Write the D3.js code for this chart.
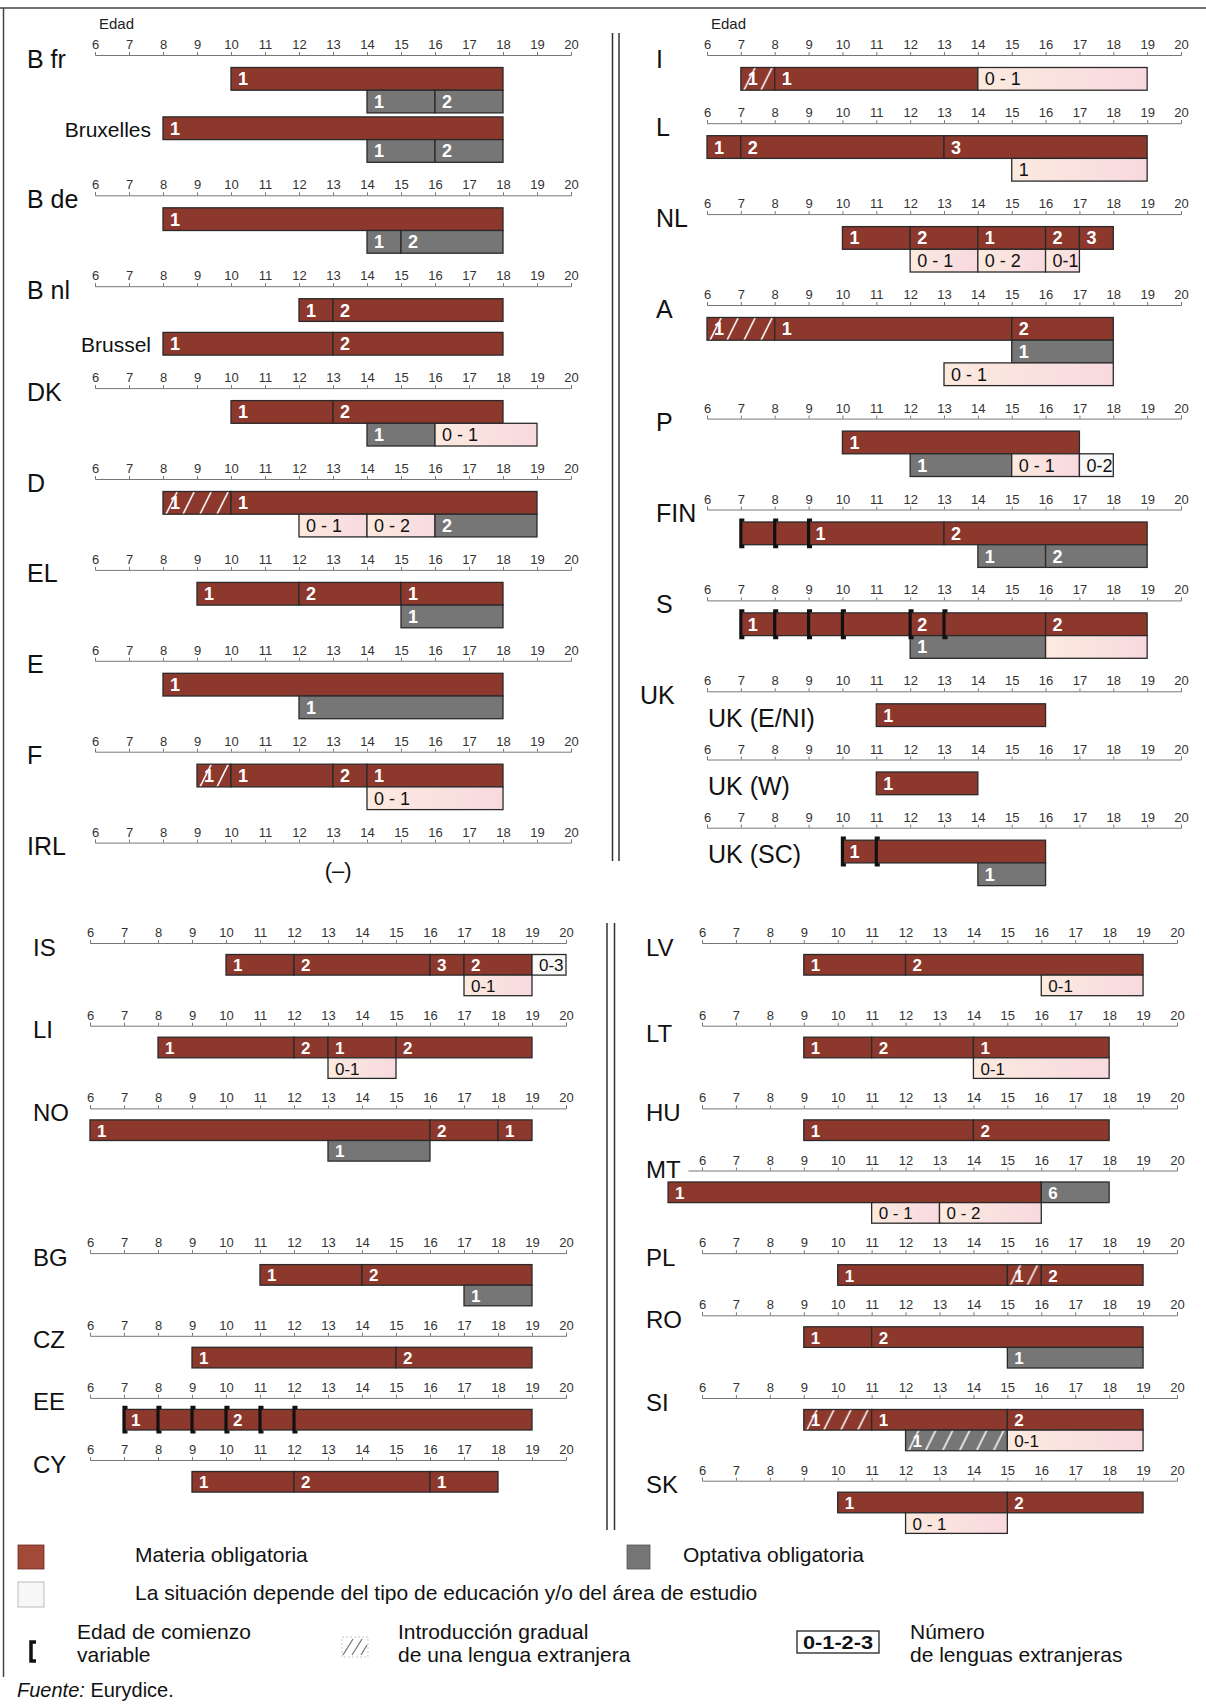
<!DOCTYPE html>
<html><head><meta charset="utf-8">
<script src="https://cdn.jsdelivr.net/npm/d3@7"></script>
<style>
body{margin:0;background:#fff}
svg{display:block}
text{font-family:"Liberation Sans",Arial,Helvetica,sans-serif}
</style>
</head><body>
<svg id="c" width="1206" height="1706"></svg>
<script>
// ---------- DATA ----------
const ageTicks = [6,7,8,9,10,11,12,13,14,15,16,17,18,19,20];
// segment: [startAge, endAge, type, label]
// types: o = materia obligatoria, e = optativa obligatoria, v = depende (light), w = depende (white),
//        h = introducción gradual (obligatoria), hg = introducción gradual (optativa)
const panelTopLeft = [
  {name:"B fr", rows:[[[10,18,"o","1"]],[[14,16,"e","1"],[16,18,"e","2"]]]},
  {sub:"Bruxelles", axis:false, rows:[[[8,18,"o","1"]],[[14,16,"e","1"],[16,18,"e","2"]]]},
  {name:"B de", rows:[[[8,18,"o","1"]],[[14,15,"e","1"],[15,18,"e","2"]]]},
  {name:"B nl", rows:[[[12,13,"o","1"],[13,18,"o","2"]]]},
  {sub:"Brussel", axis:false, rows:[[[8,13,"o","1"],[13,18,"o","2"]]]},
  {name:"DK", rows:[[[10,13,"o","1"],[13,18,"o","2"]],[[14,16,"e","1"],[16,19,"v","0 - 1"]]]},
  {name:"D", rows:[[[8,10,"h","1"],[10,19,"o","1"]],[[12,14,"v","0 - 1"],[14,16,"v","0 - 2"],[16,19,"e","2"]]]},
  {name:"EL", rows:[[[9,12,"o","1"],[12,15,"o","2"],[15,18,"o","1"]],[[15,18,"e","1"]]]},
  {name:"E", rows:[[[8,18,"o","1"]],[[12,18,"e","1"]]]},
  {name:"F", rows:[[[9,10,"h","1"],[10,13,"o","1"],[13,14,"o","2"],[14,18,"o","1"]],[[14,18,"v","0 - 1"]]]},
  {name:"IRL", rows:[], note:"(–)"}
];
const panelTopRight = [
  {name:"I", rows:[[[7,8,"h","1"],[8,14,"o","1"],[14,19,"v","0 - 1"]]]},
  {name:"L", rows:[[[6,7,"o","1"],[7,13,"o","2"],[13,19,"o","3"]],[[15,19,"v","1"]]]},
  {name:"NL", rows:[[[10,12,"o","1"],[12,14,"o","2"],[14,16,"o","1"],[16,17,"o","2"],[17,18,"o","3"]],[[12,14,"v","0 - 1"],[14,16,"v","0 - 2"],[16,17,"v","0-1"]]]},
  {name:"A", rows:[[[6,8,"h","1"],[8,15,"o","1"],[15,18,"o","2"]],[[15,18,"e","1"]],[[13,18,"v","0 - 1"]]]},
  {name:"P", rows:[[[10,17,"o","1"]],[[12,15,"e","1"],[15,17,"v","0 - 1"],[17,18,"w","0-2"]]]},
  {name:"FIN", brk:[7,8,9], rows:[[[7,9,"o",""],[9,13,"o","1"],[13,19,"o","2"]],[[14,16,"e","1"],[16,19,"e","2"]]]},
  {name:"S", brk:[7,8,9,10,12,13], rows:[[[7,12,"o","1"],[12,16,"o","2"],[16,19,"o","2"]],[[12,16,"e","1"],[16,19,"v",""]]]},
  {name:"UK", sub:"UK (E/NI)", rows:[[[11,16,"o","1"]]]},
  {sub:"UK (W)", rows:[[[11,14,"o","1"]]]},
  {sub:"UK (SC)", brk:[10,11], rows:[[[10,16,"o","1"]],[[14,16,"e","1"]]]}
];
const panelBottomLeft = [
  {name:"IS", rows:[[[10,12,"o","1"],[12,16,"o","2"],[16,17,"o","3"],[17,19,"o","2"],[19,20,"w","0-3"]],[[17,19,"v","0-1"]]]},
  {name:"LI", rows:[[[8,12,"o","1"],[12,13,"o","2"],[13,15,"o","1"],[15,19,"o","2"]],[[13,15,"v","0-1"]]]},
  {name:"NO", rows:[[[6,16,"o","1"],[16,18,"o","2"],[18,19,"o","1"]],[[13,16,"e","1"]]]},
  {name:"BG", rows:[[[11,14,"o","1"],[14,19,"o","2"]],[[17,19,"e","1"]]]},
  {name:"CZ", rows:[[[9,15,"o","1"],[15,19,"o","2"]]]},
  {name:"EE", brk:[7,8,9,10,11,12], rows:[[[7,10,"o","1"],[10,19,"o","2"]]]},
  {name:"CY", rows:[[[9,12,"o","1"],[12,16,"o","2"],[16,18,"o","1"]]]}
];
const panelBottomRight = [
  {name:"LV", rows:[[[9,12,"o","1"],[12,19,"o","2"]],[[16,19,"v","0-1"]]]},
  {name:"LT", rows:[[[9,11,"o","1"],[11,14,"o","2"],[14,18,"o","1"]],[[14,18,"v","0-1"]]]},
  {name:"HU", rows:[[[9,14,"o","1"],[14,18,"o","2"]]]},
  {name:"MT", rows:[[[5,16,"o","1"],[16,18,"e","6"]],[[11,13,"v","0 - 1"],[13,16,"v","0 - 2"]]]},
  {name:"PL", rows:[[[10,15,"o","1"],[15,16,"h","1"],[16,19,"o","2"]]]},
  {name:"RO", rows:[[[9,11,"o","1"],[11,19,"o","2"]],[[15,19,"e","1"]]]},
  {name:"SI", rows:[[[9,11,"h","1"],[11,15,"o","1"],[15,19,"o","2"]],[[12,15,"hg","1"],[15,19,"v","0-1"]]]},
  {name:"SK", rows:[[[10,15,"o","1"],[15,19,"o","2"]],[[12,15,"v","0 - 1"]]]}
];
const legendItems1 = ["Materia obligatoria","Optativa obligatoria","La situación depende del tipo de educación y/o del área de estudio"];
const legendItems2 = [["Edad de comienzo","variable"],["Introducción gradual","de una lengua extranjera"],["Número","de lenguas extranjeras"]];
const axisTitle = "Edad";
const sourceText = ["Fuente:"," Eurydice."];

// ---------- LAYOUT / STYLE ----------
const layouts = [
  {blocks:panelTopLeft, range:[95,571], top:55, labelX:27, rowH:22.7, axisGap:12.5, afterGap:33, subGap:4, labelFont:25, barFont:18, edad:true},
  {blocks:panelTopRight, range:[707,1181], top:55, labelX:656, rowH:22.7, axisGap:12.5, afterGap:33, subGap:4, labelFont:25, barFont:18, edad:true},
  {blocks:panelBottomLeft, range:[90,566], top:943, labelX:33, rowH:20.6, axisGap:11.5, afterGap:30, subGap:4, labelFont:24, barFont:17},
  {blocks:panelBottomRight, range:[702,1177], top:943, labelX:646, rowH:20.6, axisGap:11.5, afterGap:30, subGap:4, labelFont:24, barFont:17}
];
const layoutExtra = {
  "Brussel":{subGap:11}, "BG":{extraGap:62}, "MT":{labelDy:-5, axisFrom:5.6},
  "LT":{labelDy:4}, "UK":{labelDx:-16}
};
const RED = "#8c382c", GRAY = "#767676", EDGE = "#2a2a2a";

const svg = d3.select("#c");
const defs = svg.append("defs");
const lg = defs.append("linearGradient").attr("id","lg");
lg.append("stop").attr("offset","0%").attr("stop-color","#fceadf");
lg.append("stop").attr("offset","100%").attr("stop-color","#f8d9df");

let patId = 0;
function hatchFill(base, x0, y0, h, lineColor) {
  const id = "hp" + (patId++);
  const p = defs.append("pattern").attr("id", id).attr("patternUnits","userSpaceOnUse")
    .attr("x", x0).attr("y", y0).attr("width", 17).attr("height", h);
  p.append("rect").attr("width", 17).attr("height", h).attr("fill", base);
  p.append("path").attr("d", `M3,${h} L${3 + h * 0.5},0`).attr("stroke", lineColor).attr("stroke-width", 1.6);
  return `url(#${id})`;
}
function fillFor(type, x0, y0, h) {
  if (type === "o") return RED;
  if (type === "e") return GRAY;
  if (type === "v") return "url(#lg)";
  if (type === "w") return "#f8f8f8";
  if (type === "h") return hatchFill(RED, x0, y0, h, "#fff");
  if (type === "hg") return hatchFill(GRAY, x0, y0, h, "#fff");
}

// frame
svg.append("line").attr("x1",0).attr("x2",1206).attr("y1",8).attr("y2",8).attr("stroke","#444").attr("stroke-width",1.5);
svg.append("line").attr("x1",3.5).attr("x2",3.5).attr("y1",8).attr("y2",1677).attr("stroke","#444").attr("stroke-width",1.5);
// separators
[[612.5,33,861],[619,33,861],[607,923,1530],[614.5,923,1530]].forEach(([sx,y1,y2]) =>
  svg.append("line").attr("x1",sx).attr("x2",sx).attr("y1",y1).attr("y2",y2).attr("stroke","#333").attr("stroke-width",1.5));

layouts.forEach(L => {
  const x = d3.scaleLinear().domain([ageTicks[0], ageTicks[ageTicks.length - 1]]).range(L.range);
  const g = svg.append("g");
  if (L.edad) g.append("text").attr("x", L.range[0] + 4).attr("y", 29).attr("font-size", 15).attr("fill", "#222").text(axisTitle);
  let cursor = null;
  L.blocks.forEach((b, bi) => {
    const key = b.name || b.sub;
    const ex = layoutExtra[key] || {};
    let rowTop;
    if (b.axis === false) {
      rowTop = cursor + (ex.subGap ?? L.subGap);
    } else {
      const axisY = bi === 0 ? L.top : cursor + L.afterGap + (ex.extraGap || 0);
      const ax = g.append("g").attr("transform", `translate(0,${axisY})`)
        .call(d3.axisTop(x).tickValues(ageTicks).tickSize(3).tickSizeOuter(3).tickPadding(3).tickFormat(d3.format("d")));
      ax.attr("font-family", null);
      ax.select(".domain").attr("stroke", "#777");
      ax.selectAll(".tick line").attr("stroke", "#777");
      ax.selectAll(".tick text").attr("font-size", 13).attr("fill", "#333");
      if (ex.axisFrom !== undefined) {
        g.append("line").attr("x1", x(ex.axisFrom)).attr("x2", x(ageTicks[0])).attr("y1", axisY + 0.5).attr("y2", axisY + 0.5).attr("stroke", "#777");
      }
      if (b.name) {
        g.append("text").attr("x", L.labelX + (ex.labelDx || 0)).attr("y", axisY + 12.5 + (ex.labelDy || 0))
          .attr("font-size", L.labelFont).attr("fill", "#111").text(b.name);
      }
      if (b.note) {
        g.append("text").attr("x", x(13.15)).attr("y", axisY + 35).attr("text-anchor", "middle")
          .attr("font-size", 22).attr("fill", "#111").text(b.note);
      }
      rowTop = axisY + L.axisGap;
    }
    // rows
    b.rows.forEach((row, ri) => {
      const ry = rowTop + ri * L.rowH;
      row.forEach(([s, e, type, lab]) => {
        const x0 = x(s), w = x(e) - x(s);
        g.append("rect").attr("x", x0).attr("y", ry).attr("width", w).attr("height", L.rowH)
          .attr("fill", fillFor(type, x0, ry, L.rowH)).attr("stroke", EDGE).attr("stroke-width", 1.3);
      });
      row.forEach(([s, e, type, lab]) => {
        if (!lab) return;
        const dark = (type === "v" || type === "w");
        g.append("text").attr("x", x(s) + 7).attr("y", ry + L.rowH / 2 + 6.5)
          .attr("font-size", L.barFont).attr("font-weight", dark ? "normal" : "bold")
          .attr("fill", dark ? "#111" : "#fff").text(lab);
      });
    });
    // brackets (variable start age)
    if (b.brk) {
      b.brk.forEach(a => {
        const bx = x(a), t = rowTop - 2, bt = rowTop + L.rowH + 2;
        g.append("path").attr("d", `M${bx + 3.5},${t} H${bx} V${bt} H${bx + 3.5}`)
          .attr("fill", "none").attr("stroke", "#111").attr("stroke-width", 3.2);
      });
    }
    // sub-labels
    if (b.sub) {
      if (b.axis === false) {
        g.append("text").attr("x", x(b.rows[0][0][0]) - 12).attr("y", rowTop + L.rowH / 2 + 8.5)
          .attr("text-anchor", "end").attr("font-size", 21).attr("fill", "#111").text(b.sub);
      } else {
        g.append("text").attr("x", L.range[0] + 1).attr("y", rowTop + L.rowH + 0.5)
          .attr("font-size", 25).attr("fill", "#111").text(b.sub);
      }
    }
    cursor = rowTop + b.rows.length * L.rowH;
  });
});

// ---------- LEGEND ----------
const lgG = svg.append("g");
lgG.append("rect").attr("x",18).attr("y",1545).attr("width",26).attr("height",24).attr("fill","#a24a38").attr("stroke","#6a2a20").attr("stroke-width",0.8);
lgG.append("text").attr("x",135).attr("y",1562).attr("font-size",21).attr("fill","#111").text(legendItems1[0]);
lgG.append("rect").attr("x",627).attr("y",1545).attr("width",23).attr("height",24).attr("fill",GRAY).attr("stroke","#555").attr("stroke-width",0.8);
lgG.append("text").attr("x",683).attr("y",1562).attr("font-size",21).attr("fill","#111").text(legendItems1[1]);
lgG.append("rect").attr("x",18).attr("y",1582).attr("width",26).attr("height",25).attr("fill","#f7f7f7").attr("stroke","#bbb").attr("stroke-width",1);
lgG.append("text").attr("x",135).attr("y",1600).attr("font-size",21).attr("fill","#111").text(legendItems1[2]);
// bracket
lgG.append("path").attr("d","M36,1642 H31 V1661 H36").attr("fill","none").attr("stroke","#111").attr("stroke-width",3.5);
// hatch box
lgG.append("rect").attr("x",342).attr("y",1637).attr("width",26).attr("height",20).attr("fill","#fff").attr("stroke","#bbb").attr("stroke-width",0.8).attr("stroke-dasharray","2,2");
lgG.append("path").attr("d","M343,1655 L353,1639 M352,1655 L362,1639 M361,1655 L367,1645").attr("stroke","#777").attr("stroke-width",1.3);
// number box
lgG.append("rect").attr("x",797).attr("y",1631).attr("width",82).attr("height",22).attr("fill","#fff").attr("stroke","#222").attr("stroke-width",1.3);
lgG.append("text").attr("x",838).attr("y",1649).attr("text-anchor","middle").attr("font-size",18).attr("font-weight","bold")
  .attr("textLength",70).attr("lengthAdjust","spacingAndGlyphs").attr("fill","#111").text("0-1-2-3");
[[77],[398],[910]].forEach(([lx], i) => {
  lgG.append("text").attr("x",lx).attr("y",1639).attr("font-size",21).attr("fill","#111").text(legendItems2[i][0]);
  lgG.append("text").attr("x",lx).attr("y",1662).attr("font-size",21).attr("fill","#111").text(legendItems2[i][1]);
});
const src = lgG.append("text").attr("x",17).attr("y",1697).attr("font-size",20).attr("fill","#111");
src.append("tspan").attr("font-style","italic").text(sourceText[0]);
src.append("tspan").text(sourceText[1]);
</script>
</body></html>
